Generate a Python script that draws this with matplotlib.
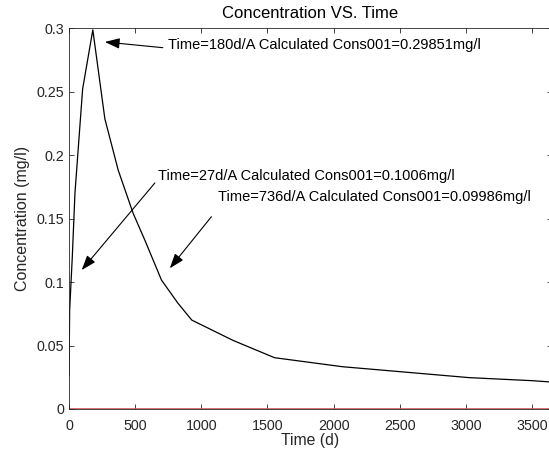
import matplotlib
matplotlib.use("Agg")
from matplotlib import pyplot as plt

# concentration series (time in days, conc in mg/l)
time = [0, 5, 25, 45, 103, 180, 271, 372, 485, 573, 699, 824, 928,
        1240, 1553, 2066, 3024, 3500, 3650]
conc = [0.026, 0.078, 0.120, 0.170, 0.252, 0.2985, 0.2285, 0.188, 0.154, 0.133, 0.1015,
        0.0832, 0.070, 0.054, 0.0404, 0.0333, 0.0247, 0.0223, 0.0212]

# zero reference line
zero_t = [0, 3650]
zero_c = [0, 0]

# annotation labels
labels = ["Time=180d/A Calculated Cons001=0.29851mg/l",
          "Time=27d/A Calculated Cons001=0.1006mg/l",
          "Time=736d/A Calculated Cons001=0.09986mg/l"]
arrow_tips = [(271, 0.289), (96, 0.1094), (762, 0.1108)]
arrow_tails = [(709, 0.2845), (649, 0.178), (1076, 0.1514)]
text_pos = [(747, 0.2866), (671, 0.1835), (1124, 0.1672)]

plt.rcParams['font.family'] = ['Liberation Sans', 'DejaVu Sans']
grey = '#262626'

fig = plt.figure(figsize=(5.49, 4.57), dpi=100)
ax = fig.add_axes([69/549, 1-409/457, (552-69)/549, (409-28)/457])

ax.plot(time, conc, color='black', linewidth=0.9)
ax.plot(zero_t, zero_c, color='#d65555', linewidth=1.2)

for lab, tip, tail, tp in zip(labels, arrow_tips, arrow_tails, text_pos):
    ax.annotate('', xy=tip, xytext=tail,
                arrowprops=dict(arrowstyle='-|>,head_length=0.9,head_width=0.32',
                                color='black', lw=0.8, shrinkA=0, shrinkB=0))
    ax.text(tp[0], tp[1], lab, fontsize=10.5, va='center', ha='left', color='black')

ax.set_xlim(0, 3650)
ax.set_ylim(0, 0.3)
ax.set_xticks([0, 500, 1000, 1500, 2000, 2500, 3000, 3500])
ax.set_yticks([0, 0.05, 0.1, 0.15, 0.2, 0.25, 0.3])
ax.set_yticklabels(['0', '0.05', '0.1', '0.15', '0.2', '0.25', '0.3'])
ax.tick_params(direction='in', top=True, right=True, length=3.5, width=0.6,
               colors=grey, labelsize=10.3)
ax.tick_params(axis='x', pad=7)
for s in ax.spines.values():
    s.set_color(grey)
    s.set_linewidth(0.6)

ax.set_title('Concentration VS. Time', fontsize=12, color='black', pad=7.5)
ax.set_xlabel('Time (d)', fontsize=11.3, color=grey, labelpad=0)
ax.set_ylabel('Concentration (mg/l)', fontsize=11.5, color=grey, labelpad=5)

fig.savefig('out.png', dpi=100)
